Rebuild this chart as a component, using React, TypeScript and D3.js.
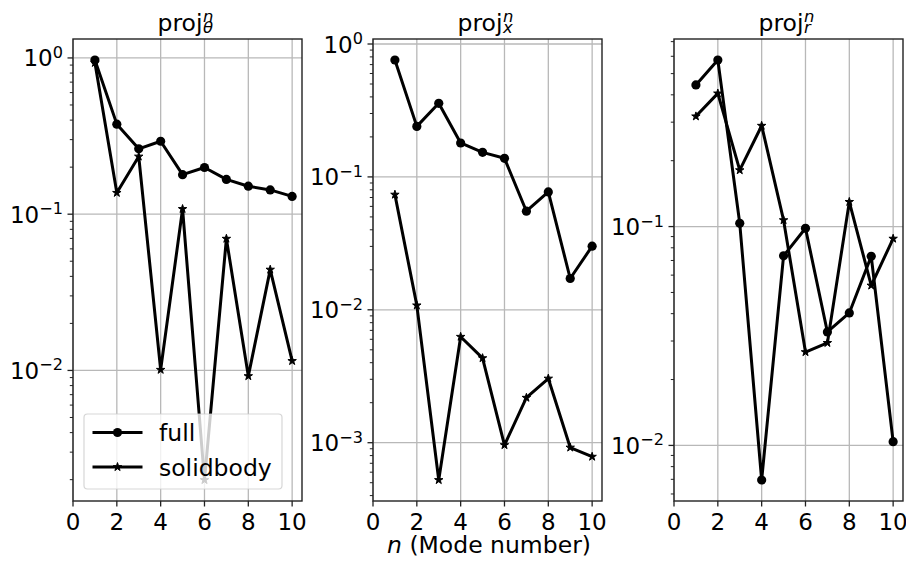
import React from 'react'
import * as d3 from 'd3'

// mode numbers
const modes = [1, 2, 3, 4, 5, 6, 7, 8, 9, 10]

// proj_theta
const thetaFull = [0.97, 0.377, 0.262, 0.293, 0.179, 0.199, 0.167, 0.151, 0.143, 0.13]
const thetaSolid = [0.93, 0.137, 0.234, 0.0101, 0.108, 0.00199, 0.0697, 0.0092, 0.0442, 0.0115]
// proj_x
const xFull = [0.758, 0.24, 0.358, 0.18, 0.153, 0.138, 0.0552, 0.0771, 0.0172, 0.0301]
const xSolid = [0.0736, 0.0108, 0.000524, 0.00627, 0.00433, 0.00096, 0.00218, 0.00304, 0.00092, 0.000785]
// proj_r
const rFull = [0.444, 0.577, 0.1035, 0.00695, 0.0735, 0.0982, 0.033, 0.0403, 0.0732, 0.0104]
const rSolid = [0.319, 0.406, 0.181, 0.289, 0.107, 0.0267, 0.0294, 0.1297, 0.0538, 0.0881]

const xTicks = [0, 2, 4, 6, 8, 10]
const subscripts = ['θ', 'x', 'r']
const seriesNames = ['full', 'solidbody']

const FONT = 'DejaVu Sans, sans-serif'
const TOP = 39
const BOTTOM = 501
const PW = 229
const lefts = [73, 373, 674]
const LW = 3
const TITLE_FS = 23.5
const SCRIPT_FS = 16.45

const starPath = d3.symbol().type(d3.symbolStar).size(22)()

const Panel = ({ left, full, solid, sub, legend }) => {
  const x = d3.scaleLinear().domain([0, 10.45]).range([left, left + PW])
  const all = full.concat(solid)
  const lo = Math.log10(d3.min(all))
  const hi = Math.log10(d3.max(all))
  const pad = (hi - lo) * 0.05
  const dlo = lo - pad
  const dhi = hi + pad
  const y = d3.scaleLog().domain([10 ** dlo, 10 ** dhi]).range([BOTTOM, TOP])

  const major = []
  for (let k = Math.ceil(dlo); k <= Math.floor(dhi); k++) major.push(k)
  const minor = []
  for (let k = Math.floor(dlo); k <= Math.floor(dhi); k++) {
    for (let m = 2; m <= 9; m++) {
      const v = m * 10 ** k
      if (Math.log10(v) >= dlo && Math.log10(v) <= dhi) minor.push(v)
    }
  }

  const line = d3.line().x((d, i) => x(modes[i])).y((d) => y(d))
  const cx = left + PW / 2
  const tx = cx - 30

  return (
    <g>
      {/* grid */}
      {xTicks.map((t) => (
        <line key={'gx' + t} x1={x(t)} x2={x(t)} y1={TOP} y2={BOTTOM} stroke="#b8b8b8" strokeWidth={1.3} />
      ))}
      {major.map((k) => (
        <line key={'gy' + k} x1={left} x2={left + PW} y1={y(10 ** k)} y2={y(10 ** k)} stroke="#b8b8b8" strokeWidth={1.3} />
      ))}

      {/* series */}
      <path d={line(full)} fill="none" stroke="#000" strokeWidth={LW} strokeLinejoin="round" />
      {full.map((d, i) => (
        <circle key={'f' + i} cx={x(modes[i])} cy={y(d)} r={4.6} fill="#000" />
      ))}
      <path d={line(solid)} fill="none" stroke="#000" strokeWidth={LW} strokeLinejoin="round" />
      {solid.map((d, i) => (
        <path key={'s' + i} d={starPath} transform={`translate(${x(modes[i])},${y(d)})`} fill="#000" stroke="#000" strokeWidth={1} />
      ))}

      {/* spines */}
      <rect x={left} y={TOP} width={PW} height={BOTTOM - TOP} fill="none" stroke="#222" strokeWidth={1.4} />

      {/* x ticks */}
      {xTicks.map((t) => (
        <g key={'xt' + t}>
          <line x1={x(t)} x2={x(t)} y1={BOTTOM} y2={BOTTOM + 5.5} stroke="#222" strokeWidth={1.3} />
          <text x={x(t)} y={530} textAnchor="middle" fontSize={23} fontFamily={FONT}>{t}</text>
        </g>
      ))}

      {/* y ticks */}
      {minor.map((v, i) => (
        <line key={'ym' + i} x1={left - 3.2} x2={left} y1={y(v)} y2={y(v)} stroke="#222" strokeWidth={1} />
      ))}
      {major.map((k) => (
        <g key={'yt' + k}>
          <line x1={left - 5.5} x2={left} y1={y(10 ** k)} y2={y(10 ** k)} stroke="#222" strokeWidth={1.3} />
          <text x={left - 10} y={y(10 ** k) + 8.5} textAnchor="end" fontSize={23} fontFamily={FONT}>
            10
            <tspan dy={-8.5} fontSize={16.1}>{k < 0 ? '\u2212' + -k : String(k)}</tspan>
          </text>
        </g>
      ))}

      {/* title */}
      <text x={tx} y={31} fontSize={TITLE_FS} fontFamily={FONT}>
        proj
        <tspan dx={0.5} dy={-9.5} fontSize={SCRIPT_FS} fontStyle="italic">n</tspan>
        <tspan dx={-0.634 * SCRIPT_FS} dy={11.3} fontSize={SCRIPT_FS} fontStyle="italic">{sub}</tspan>
      </text>

      {legend && (
        <g>
          <rect x={84} y={414} width={198} height={75} rx={3.5} fill="#fff" fillOpacity={0.8} stroke="#ccc" strokeOpacity={0.8} strokeWidth={1.2} />
          <line x1={92.5} x2={142.5} y1={432.5} y2={432.5} stroke="#000" strokeWidth={LW} />
          <circle cx={117.5} cy={432.5} r={4.6} fill="#000" />
          <text x={159} y={441} fontSize={23.5} fontFamily={FONT}>{seriesNames[0]}</text>
          <line x1={92.5} x2={142.5} y1={467} y2={467} stroke="#000" strokeWidth={LW} />
          <path d={starPath} transform="translate(117.5,467)" fill="#000" stroke="#000" strokeWidth={1} />
          <text x={159} y={476} fontSize={23.5} fontFamily={FONT}>{seriesNames[1]}</text>
        </g>
      )}
    </g>
  )
}

export default function App() {
  const data = [
    [thetaFull, thetaSolid],
    [xFull, xSolid],
    [rFull, rSolid],
  ]
  return (
    <svg width={906} height={562} style={{ position: 'absolute', left: 0, top: 0, background: '#fff' }}>
      <rect width={906} height={562} fill="#fff" />
      {data.map((d, i) => (
        <Panel key={i} left={lefts[i]} full={d[0]} solid={d[1]} sub={subscripts[i]} legend={i === 0} />
      ))}
      <text x={489} y={553} textAnchor="middle" fontSize={23.5} fontFamily={FONT}>
        <tspan fontStyle="italic">n</tspan> (Mode number)
      </text>
    </svg>
  )
}
